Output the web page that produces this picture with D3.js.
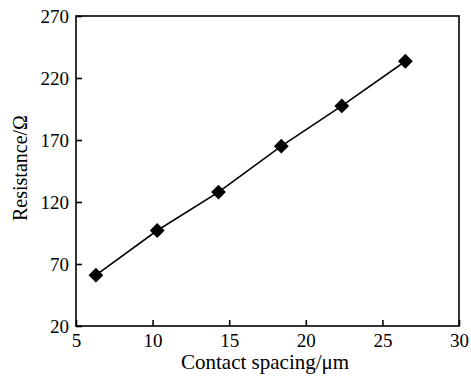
<!DOCTYPE html>
<html>
<head>
<meta charset="utf-8">
<script src="https://cdn.jsdelivr.net/npm/d3@7"></script>
<style>
  html, body { margin: 0; padding: 0; background: #fff; }
  svg text { font-family: "Liberation Serif", "Times New Roman", serif; fill: #000; }
</style>
</head>
<body>
<svg id="chart" width="471" height="378"></svg>
<script>
// data
const spacing = [6.3, 10.3, 14.3, 18.4, 22.35, 26.5];
const resistance = [61, 97, 128, 165, 197.5, 233.5];
const xTicks = [5, 10, 15, 20, 25, 30];
const yTicks = [20, 70, 120, 170, 220, 270];

const svg = d3.select("#chart");
const m = { left: 76, right: 12, top: 16, bottom: 52 };
const W = 471, H = 378;

const x = d3.scaleLinear().domain([5, 30]).range([m.left, W - m.right]);
const y = d3.scaleLinear().domain([20, 270]).range([H - m.bottom, m.top]);

// frame
svg.append("rect")
    .attr("x", x(5)).attr("y", y(270))
    .attr("width", x(30) - x(5)).attr("height", y(20) - y(270))
    .attr("fill", "none").attr("stroke", "#000").attr("stroke-width", 1.6);

// axes with inward ticks
const xAxis = svg.append("g")
    .attr("transform", "translate(0," + y(20) + ")")
    .call(d3.axisBottom(x).tickValues(xTicks).tickSizeInner(-6).tickSizeOuter(0).tickPadding(10));
const yAxis = svg.append("g")
    .attr("transform", "translate(" + x(5) + ",0)")
    .call(d3.axisLeft(y).tickValues(yTicks).tickSizeInner(-6).tickSizeOuter(0).tickPadding(7));

[xAxis, yAxis].forEach(function(g) {
    g.attr("font-family", null).attr("font-size", null);
    g.select(".domain").remove();
    g.selectAll(".tick line").attr("stroke", "#000").attr("stroke-width", 1.6);
    g.selectAll(".tick text")
        .attr("font-family", "Liberation Serif, serif")
        .attr("font-size", 19);
});
xAxis.selectAll(".tick text").attr("dy", "0.6em");
yAxis.selectAll(".tick text").attr("dy", "0.35em");

// line through points
const line = d3.line()
    .x((d, i) => x(spacing[i]))
    .y((d) => y(d));
svg.append("path")
    .datum(resistance)
    .attr("d", line)
    .attr("fill", "none").attr("stroke", "#000").attr("stroke-width", 1.6);

// diamond markers
svg.append("g").selectAll("path")
    .data(resistance)
    .enter().append("path")
    .attr("d", d3.symbol().type(d3.symbolSquare).size(110))
    .attr("transform", (d, i) => "translate(" + x(spacing[i]) + "," + y(d) + ") rotate(45)")
    .attr("fill", "#000");

// axis titles
svg.append("text")
    .attr("x", 181).attr("y", 369)
    .attr("font-size", 21)
    .text("Contact spacing/\u03bcm");
svg.append("text")
    .attr("transform", "translate(27,168) rotate(-90)")
    .attr("text-anchor", "middle").attr("font-size", 20)
    .text("Resistance/\u03a9");
</script>
</body>
</html>
